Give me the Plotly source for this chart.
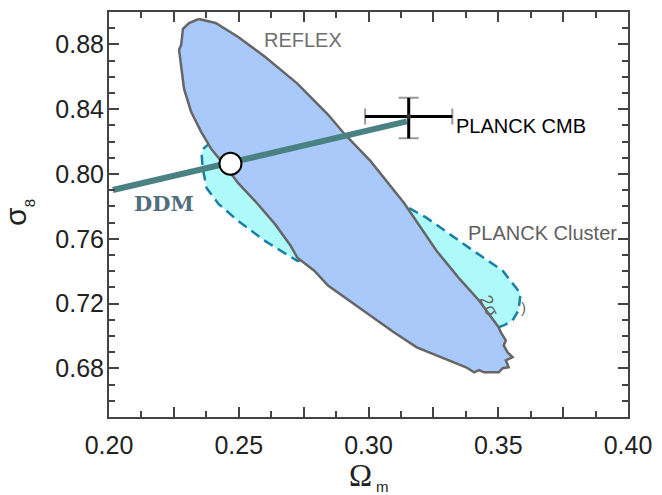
import plotly.graph_objects as go

# REFLEX contour (Omega_m, sigma_8)
reflex_om = [0.2346, 0.2411, 0.2498, 0.2601, 0.2726, 0.2844, 0.2909, 0.3008, 0.3137, 0.3262,
             0.3350, 0.3426, 0.3471, 0.3502, 0.3510, 0.3529, 0.3521, 0.3536, 0.3555, 0.3529,
             0.3540, 0.3517, 0.3502, 0.3445, 0.3426, 0.3407, 0.3376, 0.3289, 0.3186, 0.3099,
             0.2970, 0.2844, 0.2791, 0.2726, 0.2700, 0.2639, 0.2563, 0.2498, 0.2449, 0.2395,
             0.2354, 0.2316, 0.2289, 0.2278, 0.2270, 0.2278, 0.2285, 0.2308, 0.2346]
reflex_s8 = [0.8957, 0.8932, 0.8846, 0.8724, 0.8558, 0.8367, 0.8244, 0.8079, 0.7821, 0.7526,
             0.7354, 0.7219, 0.7120, 0.7053, 0.7022, 0.6973, 0.6942, 0.6899, 0.6869, 0.6850,
             0.6807, 0.6801, 0.6776, 0.6776, 0.6789, 0.6776, 0.6807, 0.6862, 0.6930, 0.7022,
             0.7170, 0.7311, 0.7403, 0.7483, 0.7557, 0.7692, 0.7833, 0.7943, 0.8048, 0.8152,
             0.8263, 0.8386, 0.8527, 0.8650, 0.8767, 0.8797, 0.8896, 0.8932, 0.8957]

# PLANCK cluster contour
cluster_om = [0.2392, 0.2365, 0.2357, 0.2361, 0.2376, 0.2422, 0.2498, 0.2601, 0.2662, 0.2726,
              0.2764, 0.3106, 0.3487, 0.3521, 0.3555, 0.3578, 0.3586, 0.3517, 0.3388, 0.3297,
              0.3224, 0.3122, 0.3068, 0.2726, 0.2460, 0.2392]
cluster_s8 = [0.8195, 0.8158, 0.8122, 0.8036, 0.7913, 0.7815, 0.7710, 0.7587, 0.7526, 0.7464,
              0.7477, 0.7157, 0.7047, 0.7065, 0.7096, 0.7157, 0.7262, 0.7403, 0.7544, 0.7649,
              0.7729, 0.7821, 0.7864, 0.8017, 0.8140, 0.8195]

# DDM line and point
ddm_om = [0.2015, 0.3148]
ddm_s8 = [0.7901, 0.8325]
ddm_point_om = [0.2468]
ddm_point_s8 = [0.8063]

# PLANCK CMB
cmb_om = [0.3155]
cmb_s8 = [0.8355]
cmb_err_om = [0.0168]
cmb_err_s8_plus = [0.0115]
cmb_err_s8_minus = [0.0135]

x_ticks = [0.20, 0.225, 0.25, 0.275, 0.30, 0.325, 0.35, 0.375, 0.40]
x_ticktext = ["0.20", "", "0.25", "", "0.30", "", "0.35", "", "0.40"]
y_ticks = [0.68, 0.72, 0.76, 0.80, 0.84, 0.88]
y_ticktext = ["0.68", "0.72", "0.76", "0.80", "0.84", "0.88"]

fig = go.Figure()

fig.add_trace(go.Scatter(x=cluster_om, y=cluster_s8, mode="lines", fill="toself",
                         fillcolor="#aefafa",
                         line=dict(color="#1a7fa5", width=2.5, dash="10px,6px"),
                         hoverinfo="skip", showlegend=False))
fig.add_trace(go.Scatter(x=reflex_om, y=reflex_s8, mode="lines", fill="toself",
                         fillcolor="#a9c9fa",
                         line=dict(color="#666666", width=2.5),
                         hoverinfo="skip", showlegend=False))
fig.add_trace(go.Scatter(x=ddm_om, y=ddm_s8, mode="lines",
                         line=dict(color="#4a8283", width=6),
                         showlegend=False))
fig.add_trace(go.Scatter(x=ddm_point_om, y=ddm_point_s8, mode="markers",
                         marker=dict(size=22, color="white", line=dict(color="black", width=2)),
                         showlegend=False))
# grey caps
fig.add_trace(go.Scatter(x=cmb_om, y=cmb_s8, mode="markers",
                         marker=dict(size=1, color="rgba(0,0,0,0)"),
                         error_x=dict(type="data", array=cmb_err_om, color="#999999", thickness=2, width=8),
                         error_y=dict(type="data", array=cmb_err_s8_plus, arrayminus=cmb_err_s8_minus,
                                      color="#999999", thickness=2, width=10),
                         showlegend=False))
fig.add_trace(go.Scatter(x=cmb_om, y=cmb_s8, mode="markers",
                         marker=dict(size=5, color="#333333"),
                         error_x=dict(type="data", array=cmb_err_om, color="black", thickness=3, width=0),
                         error_y=dict(type="data", array=cmb_err_s8_plus, arrayminus=cmb_err_s8_minus,
                                      color="black", thickness=3, width=0),
                         showlegend=False))

sans = "Liberation Sans, Arial, sans-serif"
ann = [
    dict(x=0.2749, y=0.8828, text="REFLEX", font=dict(family=sans, size=20, color="#707070")),
    dict(x=0.3331, y=0.8294, text="PLANCK CMB", xanchor="left", font=dict(family=sans, size=20, color="black")),
    dict(x=0.3376, y=0.7636, text="PLANCK Cluster", xanchor="left", font=dict(family=sans, size=20, color="#606060")),
    dict(x=0.2213, y=0.7821, text="<b>DDM</b>", font=dict(family="DejaVu Serif, serif", size=21, color="#4f6e7e")),
    dict(x=0.3466, y=0.7188, text="2σ", textangle=65, font=dict(family=sans, size=18, color="#666666")),
    dict(x=0.3598, y=0.7176, text=")", font=dict(family=sans, size=15, color="#666666")),
]
for a in ann:
    a.update(xref="x", yref="y", showarrow=False)
    a.setdefault("xanchor", "center")
    a["yanchor"] = "middle"
ann += [
    dict(xref="paper", yref="paper", x=0.484, y=-0.145, text="Ω", showarrow=False,
         xanchor="center", yanchor="middle",
         font=dict(family="Liberation Serif, Times New Roman, serif", size=31, color="#222222")),
    dict(xref="paper", yref="paper", x=0.5275, y=-0.172, text="m", showarrow=False,
         xanchor="center", yanchor="middle",
         font=dict(family=sans, size=15, color="#222222")),
    dict(xref="paper", yref="paper", x=-0.179, y=0.494, text="σ", textangle=-90, showarrow=False,
         xanchor="center", yanchor="middle",
         font=dict(family=sans, size=30, color="#222222")),
    dict(xref="paper", yref="paper", x=-0.153, y=0.527, text="8", textangle=-90, showarrow=False,
         xanchor="center", yanchor="middle",
         font=dict(family=sans, size=15, color="#222222")),
]

axis_common = dict(showline=True, linecolor="#444444", linewidth=2, mirror="ticks",
                   ticks="inside", tickcolor="#444444", tickwidth=1.5, ticklen=10,
                   showgrid=False, zeroline=False,
                   tickfont=dict(family=sans, size=25, color="#222222"))

fig.update_layout(
    width=662, height=495,
    margin=dict(l=109, r=26, t=10, b=78),
    plot_bgcolor="white", paper_bgcolor="white",
    xaxis=dict(range=[0.20, 0.40], tickmode="array", tickvals=x_ticks, ticktext=x_ticktext,
               ticklabelstandoff=5,
               minor=dict(dtick=0.0125, tick0=0.2, ticks="inside", ticklen=6, tickcolor="#444444", tickwidth=1.5),
               **axis_common),
    yaxis=dict(range=[0.65, 0.90], tickmode="array", tickvals=y_ticks, ticktext=y_ticktext,
               ticklabelstandoff=-2,
               minor=dict(dtick=0.01, tick0=0.65, ticks="inside", ticklen=6, tickcolor="#444444", tickwidth=1.5),
               **axis_common),
    annotations=ann,
)

fig.write_html("out.html", config={"displayModeBar": False},
               post_script="document.body.style.margin='0';document.body.style.padding='0';")
